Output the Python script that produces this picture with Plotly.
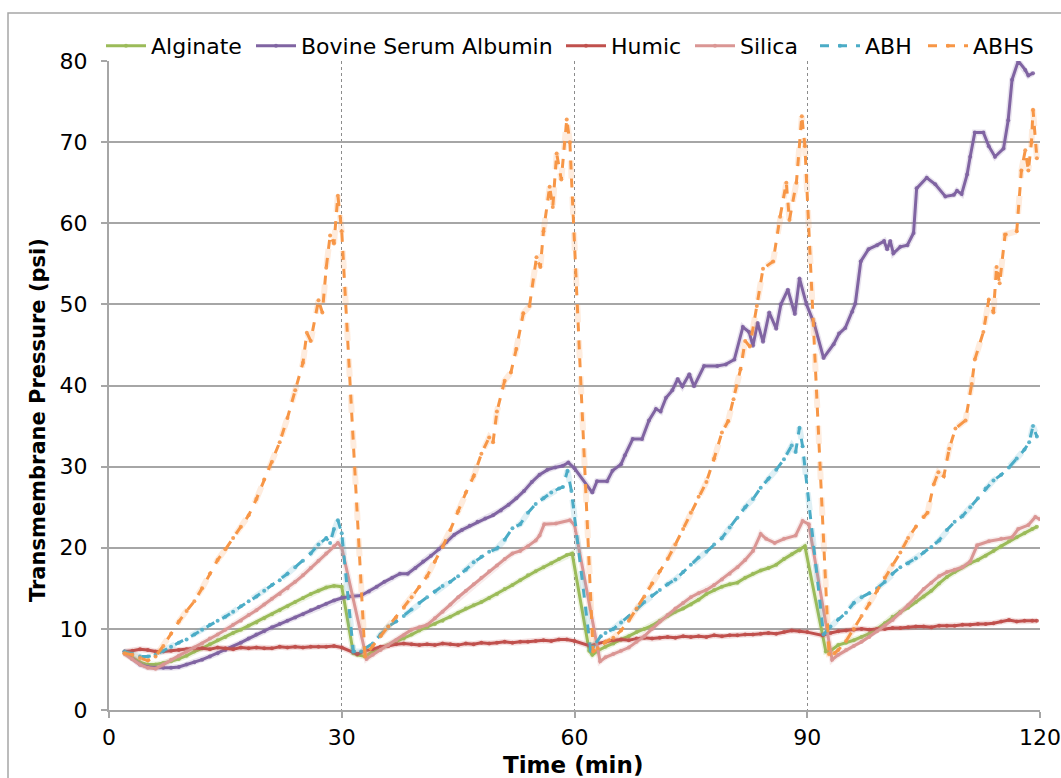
import plotly.graph_objects as go

# Time (min) and transmembrane pressure (psi) for each feed solution
alginate_t = [2, 3, 4, 5, 6, 7, 8, 9, 10, 11, 12, 13, 14, 15, 16, 17, 18, 19, 20, 21, 22, 23, 24, 25, 26, 27, 28, 29, 30,
              31.5, 32, 33, 34, 35, 36, 37, 38, 39, 40, 41, 42, 43, 44, 45, 46, 47, 48, 49, 50, 51, 52, 53, 54, 55, 56,
              57, 58, 59, 59.7, 61.9, 62.3, 63, 64, 65, 66, 67, 68, 69, 70, 71, 72, 73, 74, 75, 76, 77, 78, 79, 80, 81,
              82, 83, 84, 85, 86, 87, 88, 89, 89.7, 92.4, 93, 94, 95, 96, 97, 98, 99, 100, 101, 102, 103, 104, 105,
              106, 107, 108, 109, 110, 111, 112, 113, 114, 115, 116, 117, 118, 119, 119.6]
alginate_p = [7.0, 6.4, 5.9, 5.6, 5.6, 5.8, 6.0, 6.3, 6.7, 7.2, 7.6, 8.1, 8.6, 9.0, 9.5, 9.9, 10.4, 10.8, 11.3, 11.8,
              12.3, 12.8, 13.3, 13.8, 14.3, 14.7, 15.1, 15.3, 15.2,
              7.0, 6.8, 6.6, 7.2, 7.6, 8.0, 8.4, 8.8, 9.3, 9.8, 10.2, 10.6, 11.0, 11.5, 12.0, 12.5, 12.9, 13.3, 13.8,
              14.3, 14.9, 15.4, 16.0, 16.6, 17.1, 17.6, 18.1, 18.6, 19.1, 19.3,
              7.3, 6.8, 7.3, 7.8, 8.2, 8.7, 9.1, 9.6, 10.0, 10.4, 11.0, 11.6, 12.1, 12.5, 13.0, 13.6, 14.3, 14.8, 15.2,
              15.5, 15.7, 16.3, 16.8, 17.2, 17.5, 17.9, 18.6, 19.2, 19.7, 20.2,
              7.2, 7.3, 8.0, 8.3, 8.6, 9.0, 9.4, 10.0, 10.7, 11.5, 12.1, 12.6, 13.3, 14.0, 14.7, 15.6, 16.4, 17.0,
              17.6, 18.1, 18.5, 19.0, 19.6, 20.2, 20.8, 21.3, 21.8, 22.3, 22.6]

bsa_t = [2, 3, 4, 5, 6, 7, 8, 9, 10, 11, 12, 13, 14, 15, 16, 17, 18, 19, 20, 21, 22, 23, 24, 25, 26, 27, 28, 29, 30, 31,
         32.5, 33.5, 34.5, 35.5, 36.5, 37.5, 38.5, 39.5, 40.5, 41.5, 42.5, 43.5, 44.5, 45.5, 46.5, 47.5, 48.5, 49.5,
         50.5, 51.5, 52.5, 53.5, 54.5, 55.5, 56.5, 57.5, 58.5, 59.2, 60, 62.3, 62.9, 64.2, 64.9, 66, 66.5, 67.5, 68.7,
         69.6, 70.5, 71.1, 71.8, 72.6, 73.3, 73.9, 74.8, 75.4, 76.7, 78.4, 79.5, 80.6, 81.7, 82.5, 83, 83.6, 84.3,
         85.1, 86, 86.6, 87.5, 88.4, 89, 89.9, 90.9, 92.1, 93.4, 94.1, 94.9, 95.8, 96.2, 96.9, 97.9, 99, 99.9, 100.3,
         100.7, 101.1, 102, 102.9, 103.7, 104.1, 105.4, 106.5, 107.8, 108.9, 109.3, 109.9, 110.6, 111, 111.6, 112.7,
         113.4, 114.2, 115.3, 115.9, 116.4, 117.2, 118.1, 118.5, 119.1]
bsa_p = [7.2, 6.3, 5.6, 5.3, 5.2, 5.2, 5.2, 5.3, 5.6, 5.9, 6.2, 6.6, 7.0, 7.4, 7.8, 8.3, 8.8, 9.3, 9.7, 10.2, 10.6,
         11.0, 11.4, 11.8, 12.3, 12.7, 13.1, 13.5, 13.8, 14.0,
         14.1, 14.6, 15.2, 15.8, 16.3, 16.8, 16.8, 17.5, 18.3, 19.0, 19.8, 20.7, 21.6, 22.2, 22.7, 23.2, 23.6, 24.0,
         24.6, 25.3, 26.1, 27.0, 28.1, 29.0, 29.6, 29.9, 30.1, 30.5, 29.8, 26.8, 28.2, 28.2, 29.5, 30.3, 31.4, 33.4,
         33.4, 35.7, 37.1, 36.8, 38.5, 39.4, 40.8, 39.9, 41.4, 39.9, 42.4, 42.4, 42.6, 43.2, 47.2, 46.6, 44.9, 47.7,
         45.4, 49.0, 47.0, 50.0, 51.8, 48.8, 53.2, 50.0, 47.6, 43.4, 45.1, 46.4, 47.1, 49.1, 50.1, 55.3, 56.8, 57.3,
         57.8, 56.8, 57.8, 56.3, 57.1, 57.3, 58.8, 64.3, 65.6, 64.8, 63.3, 63.5, 64.0, 63.6, 66.0, 68.2, 71.2, 71.2,
         69.5, 68.2, 69.2, 72.7, 77.7, 80.0, 78.9, 78.2, 78.5]

humic_t = [2, 3, 4, 5, 6, 7, 8, 9, 10, 11, 12, 13, 14, 15, 16, 17, 18, 19, 20, 21, 22, 23, 24, 25, 26, 27, 28, 29, 30,
           32, 33, 34, 35, 36, 37, 38, 39, 40, 41, 42, 43, 44, 45, 46, 47, 48, 49, 50, 51, 52, 53, 54, 55, 56, 57, 58,
           59, 60, 62, 63, 64, 65, 66, 67, 68, 69, 70, 71, 72, 73, 74, 75, 76, 77, 78, 79, 80, 81, 82, 83, 84, 85, 86,
           87, 88, 89, 90, 92, 93, 94, 95, 96, 97, 98, 99, 100, 101, 102, 103, 104, 105, 106, 107, 108, 109, 110, 111,
           112, 113, 114, 115, 116, 117, 118, 119, 119.6]
humic_p = [7.2, 7.3, 7.5, 7.4, 7.2, 7.2, 7.3, 7.4, 7.5, 7.6, 7.6, 7.5, 7.7, 7.6, 7.5, 7.7, 7.6, 7.7, 7.6, 7.6, 7.8, 7.7,
           7.8, 7.7, 7.8, 7.8, 7.8, 7.9, 7.7,
           6.9, 7.3, 7.5, 7.8, 7.9, 8.1, 8.2, 8.1, 8.0, 8.1, 8.0, 8.2, 8.1, 8.0, 8.2, 8.1, 8.3, 8.2, 8.3, 8.4, 8.3, 8.4,
           8.4, 8.5, 8.6, 8.5, 8.7, 8.7, 8.5,
           7.9, 8.2, 8.4, 8.6, 8.7, 8.6, 8.8, 8.9, 8.8, 8.9, 9.0, 8.9, 9.1, 9.0, 9.1, 9.0, 9.2, 9.1, 9.2, 9.2, 9.3, 9.3,
           9.4, 9.5, 9.4, 9.6, 9.8, 9.7, 9.6,
           9.2, 9.5, 9.7, 9.8, 9.9, 10.0, 9.9, 10.0, 10.0, 10.1, 10.1, 10.2, 10.3, 10.3, 10.2, 10.4, 10.4, 10.4, 10.5,
           10.5, 10.6, 10.6, 10.7, 10.9, 11.1, 10.9, 11.0, 11.0, 11.0]

silica_t = [2, 3, 4, 5, 6, 7, 8, 9, 10, 11, 12, 13, 14, 15, 16, 17, 18, 19, 20, 21, 22, 23, 24, 25, 26, 27, 28, 29, 29.5,
            30, 33.2, 34, 35, 36, 37, 38, 39, 40, 41, 42, 43, 44, 45, 46, 47, 48, 49, 50, 51, 52, 53, 54, 55, 55.5,
            56.1, 57.6, 59.4, 60, 63.3, 64, 65, 66, 67, 68, 69, 70, 71, 72, 73, 74, 75, 76, 77, 78, 79, 80, 81, 82, 83,
            84, 84.7, 85.8, 87, 88.5, 89.4, 90.2, 93.2, 94, 95, 96, 97, 98, 99, 100, 101, 102, 103, 104, 105, 106, 107,
            108, 109, 110, 111, 111.9, 113.4, 115, 116.4, 117.2, 118.5, 119.4, 120]
silica_p = [6.9, 6.3, 5.6, 5.2, 5.1, 5.6, 6.2, 6.7, 7.2, 7.7, 8.2, 8.8, 9.3, 9.9, 10.5, 11.0, 11.7, 12.3, 13.0, 13.7,
            14.3, 15.0, 15.8, 16.6, 17.5, 18.4, 19.3, 20.2, 20.6, 20.0,
            6.3, 6.8, 7.4, 8.0, 8.6, 9.2, 9.9, 10.2, 10.5, 11.3, 12.1, 13.0, 13.9, 14.7, 15.5, 16.3, 17.1, 17.8, 18.6,
            19.3, 19.6, 20.2, 20.9, 21.5, 22.9, 23.0, 23.4, 22.8,
            6.0, 6.5, 6.9, 7.3, 7.7, 8.4, 9.1, 10.0, 10.9, 11.7, 12.5, 13.2, 13.9, 14.4, 14.8, 15.4, 16.1, 16.8, 17.6,
            18.5, 19.6, 21.7, 21.1, 20.6, 21.1, 21.5, 23.3, 22.9,
            6.2, 6.8, 7.4, 7.9, 8.4, 9.0, 9.7, 10.4, 11.1, 12.0, 12.9, 13.9, 14.9, 15.7, 16.5, 17.0, 17.3, 17.6, 18.3,
            20.3, 20.8, 21.1, 21.3, 22.3, 22.8, 23.8, 23.5]

abh_t = [2, 3, 4, 5, 6, 7, 8, 9, 10, 11, 12, 13, 14, 15, 16, 17, 18, 19, 20, 21, 22, 23, 24, 25, 26, 27, 28, 28.5, 29,
         29.5, 30, 31.5, 32.5, 33, 34, 35, 36, 37, 38, 39, 40, 41, 42, 43, 44, 45, 46, 47, 48, 49, 50, 51, 52, 53, 54,
         55, 56, 57, 58, 58.5, 59.1, 59.6, 62.1, 62.4, 63.4, 64, 65, 66, 67, 68, 69, 70, 71, 72, 73, 74, 75, 76, 77, 78,
         79, 80, 81, 82, 83, 84, 85, 86, 87, 88, 88.5, 89, 89.4, 92.1, 93, 94, 95, 96, 97, 98, 99, 100, 101, 102, 103,
         104, 105, 106, 107, 108, 109, 110, 111, 112, 113, 114, 115, 116, 117, 118, 118.6, 119.1, 119.6]
abh_p = [7.2, 6.9, 6.6, 6.6, 6.8, 7.3, 7.8, 8.3, 8.7, 9.3, 9.9, 10.5, 11.0, 11.5, 12.1, 12.8, 13.4, 14.0, 14.7, 15.4,
         16.0, 16.8, 17.6, 18.4, 19.3, 20.4, 21.2, 20.6, 22.3, 23.4, 21.8,
         7.2, 7.2, 7.6, 8.2, 9.3, 10.3, 10.9, 11.6, 12.4, 13.2, 13.9, 14.6, 15.3, 15.8, 16.5, 17.3, 18.2, 18.9, 19.5,
         19.9, 21.0, 22.4, 22.9, 24.3, 25.4, 26.1, 26.8, 27.3, 27.5, 29.5, 27.0,
         7.3, 7.8, 9.1, 9.5, 10.0, 10.8, 11.5, 12.4, 13.3, 14.1, 14.8, 15.5, 16.1, 17.0, 17.9, 18.8, 19.5, 20.4, 21.2,
         22.5, 23.7, 25.0, 26.0, 27.4, 28.5, 29.6, 30.9, 32.6, 31.8, 34.8, 32.5,
         9.3, 10.3, 11.2, 12.0, 13.2, 13.9, 14.4, 15.0, 15.8, 16.8, 17.6, 18.1, 18.7, 19.4, 20.1, 20.9, 22.2, 23.2,
         23.9, 25.0, 26.1, 27.3, 28.3, 29.0, 29.9, 31.0, 32.1, 33.0, 35.0, 33.7]

abhs_t = [2, 3, 4, 5, 6, 7, 8, 9, 10, 11, 12, 13, 14, 15, 16, 17, 18, 19, 20, 21, 22, 23, 24, 25, 25.5, 26, 27, 27.5,
          28, 28.5, 29, 29.5, 30, 33, 34, 35, 36, 37, 38, 39, 40, 41, 42, 43, 44, 45, 46, 47, 48, 49, 49.5, 50, 51,
          51.8, 52.5, 53.4, 54.2, 55.1, 55.6, 56, 56.8, 57.2, 57.7, 58.3, 59, 59.4, 62.4, 63, 64, 65, 66, 67, 68, 69,
          70, 71, 72, 73, 74, 75, 76, 77, 78, 79, 79.8, 80.5, 81.4, 82, 82.6, 83.5, 84.3, 85.6, 86.5, 87.3, 87.7,
          88.6, 89.3, 89.7, 92.8, 93.5, 94, 95, 96, 97, 98, 99, 100, 101, 102, 103, 104, 105, 105.5, 106.3, 106.9,
          107.6, 108.3, 109.1, 110.4, 111.2, 111.6, 112.7, 113.4, 114, 114.4, 114.8, 115.5, 117, 117.6, 118.1, 118.5,
          118.9, 119.1, 119.6]
abhs_p = [7.0, 6.8, 6.4, 6.1, 6.6, 7.9, 9.4, 10.9, 12.2, 13.4, 15.0, 16.8, 18.5, 19.8, 21.2, 22.6, 24.0, 26.0, 28.4,
          30.6, 33.0, 36.0, 39.4, 42.8, 46.5, 45.5, 50.5, 49.0, 54.5, 58.5, 57.5, 63.4, 59.0,
          6.6, 7.9, 9.1, 10.3, 11.4, 12.6, 13.9, 15.2, 16.5, 18.3, 20.1, 22.2, 24.5, 26.8, 28.8, 31.6, 33.6, 33.0,
          36.8, 40.6, 41.6, 44.5, 48.9, 49.8, 55.8, 54.6, 59.0, 64.5, 62.0, 68.6, 65.4, 72.8, 70.0,
          7.2, 7.6, 8.4, 8.9, 9.8, 11.0, 12.5, 14.0, 15.6, 17.1, 18.6, 20.4, 22.3, 24.3, 26.3, 28.1, 31.0, 34.2, 35.6,
          38.3, 42.0, 45.5, 44.8, 49.8, 54.4, 55.3, 60.8, 65.0, 60.4, 65.0, 73.2, 69.5,
          6.9, 7.0, 7.4, 8.5, 10.0, 11.6, 13.1, 14.7, 16.3, 17.9, 19.4, 21.2, 22.6, 23.8, 24.3, 27.8, 29.3, 28.8,
          32.2, 34.7, 35.7, 40.2, 43.2, 46.6, 50.6, 49.0, 54.6, 52.6, 58.6, 59.0, 66.5, 69.0, 66.5, 70.0, 74.0, 68.0]

x_ticks = [0, 30, 60, 90, 120]
y_ticks = [0, 10, 20, 30, 40, 50, 60, 70, 80]

series = [
    ("Alginate", alginate_t, alginate_p, "#9BBB59", "solid"),
    ("Bovine Serum Albumin", bsa_t, bsa_p, "#8064A2", "solid"),
    ("Humic", humic_t, humic_p, "#C0504D", "solid"),
    ("Silica", silica_t, silica_p, "#DA9694", "solid"),
    ("ABH", abh_t, abh_p, "#4BACC6", "dash"),
    ("ABHS", abhs_t, abhs_p, "#F79646", "dash"),
]

# left edge (px) of each legend entry along the top row
legend_left_px = [101, 251, 561, 690, 815, 923]

W, H = 1061, 778
L, R, T, B = 109, 21, 61, 68
plot_w, plot_h = W - L - R, H - T - B


def px_to_paper_x(px):
    return (px - L) / plot_w


def px_to_paper_y(py):
    return (H - B - py) / plot_h


def rgba(hex_color, alpha):
    h = hex_color.lstrip("#")
    r, g, b = int(h[0:2], 16), int(h[2:4], 16), int(h[4:6], 16)
    return f"rgba({r},{g},{b},{alpha})"


fig = go.Figure()
legend_layouts = {}
for i, (name, t, p, color, dash) in enumerate(series):
    legend_id = "legend" if i == 0 else f"legend{i + 1}"
    # soft glow under each line
    fig.add_trace(go.Scatter(
        x=t, y=p, mode="lines", hoverinfo="skip", showlegend=False,
        line=dict(color=rgba(color, 0.18), width=6, dash=dash),
    ))
    fig.add_trace(go.Scatter(
        x=t, y=p, mode="lines+markers", name=name, legend=legend_id,
        line=dict(color=color, width=3, dash=dash),
        marker=dict(color=rgba(color, 0.9), size=4, line=dict(width=0)),
    ))
    legend_layouts[legend_id] = dict(
        orientation="h", xref="container", yref="container",
        x=legend_left_px[i] / W, xanchor="left", y=1 - 46 / H, yanchor="middle",
        font=dict(size=22), itemwidth=40, bgcolor="rgba(0,0,0,0)",
    )

axis_gray = "#A6A6A6"
font_family = "DejaVu Sans, Verdana, sans-serif"

fig.update_layout(
    width=W, height=H,
    margin=dict(l=L, r=R, t=T, b=B, autoexpand=False),
    paper_bgcolor="white", plot_bgcolor="white",
    font=dict(family=font_family, size=22, color="black"),
    showlegend=True,
    xaxis=dict(
        range=[0, 120], tickvals=x_ticks, ticktext=[str(v) for v in x_ticks],
        showgrid=True, gridcolor="#8C8C8C", griddash="dot", gridwidth=1,
        showline=True, linecolor=axis_gray, linewidth=2,
        ticks="outside", ticklen=6, tickcolor=axis_gray, tickwidth=1.5,
        zeroline=False, ticklabelstandoff=1, automargin=False,
    ),
    yaxis=dict(
        range=[0, 80], tickvals=y_ticks,
        showgrid=True, gridcolor=axis_gray, gridwidth=2,
        showline=True, linecolor=axis_gray, linewidth=2,
        ticks="outside", ticklen=6, tickcolor=axis_gray, tickwidth=1.5,
        zeroline=False, ticklabelstandoff=9, automargin=False,
    ),
    annotations=[
        dict(text="<b>Time (min)</b>", xref="paper", yref="paper",
             x=px_to_paper_x(573), y=px_to_paper_y(765), xanchor="center", yanchor="middle",
             showarrow=False, font=dict(size=23)),
        dict(text="<b>Transmembrane Pressure (psi)</b>", xref="paper", yref="paper",
             x=px_to_paper_x(38), y=px_to_paper_y(420), xanchor="center", yanchor="middle",
             textangle=-90, showarrow=False, font=dict(size=21)),
    ],
    shapes=[
        # chart area border
        dict(type="rect", xref="paper", yref="paper",
             x0=px_to_paper_x(8), x1=px_to_paper_x(1100), y0=px_to_paper_y(820), y1=px_to_paper_y(13),
             line=dict(color=axis_gray, width=1.5), fillcolor="rgba(0,0,0,0)", layer="below"),
    ],
    **legend_layouts,
)

fig.write_html("out.html")
